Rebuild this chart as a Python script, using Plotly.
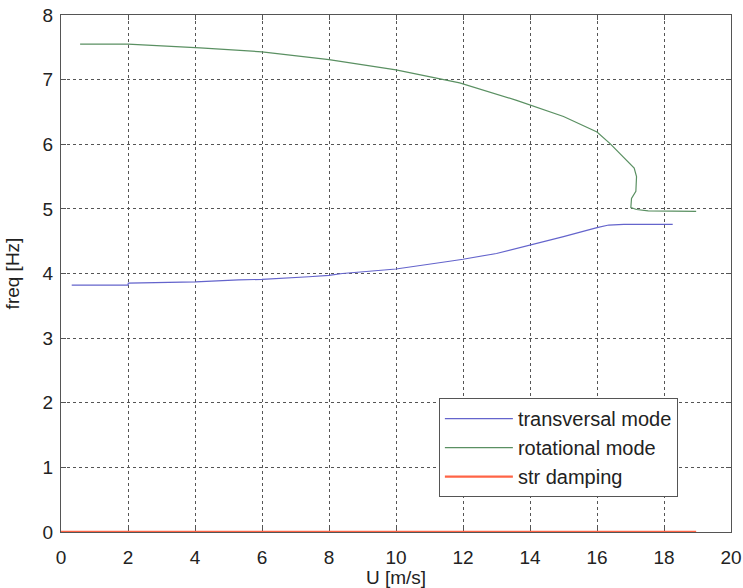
import plotly.graph_objects as go

# transversal mode
trans_x = [0.32, 2.0, 2.01, 4.0, 4.02, 5.3, 6.0, 7.4, 8.0, 8.4, 10.0, 11.6, 12.0, 13.0, 13.95, 15.0, 16.0, 16.35, 16.8, 18.26]
trans_y = [3.82, 3.82, 3.85, 3.86, 3.87, 3.90, 3.91, 3.95, 3.97, 4.00, 4.07, 4.19, 4.22, 4.31, 4.43, 4.57, 4.71, 4.75, 4.76, 4.76]

# rotational mode
rot_x = [0.57, 2.0, 4.15, 6.0, 8.0, 10.0, 11.9, 13.6, 15.0, 16.0, 16.39, 16.8, 17.11, 17.18, 17.16, 17.03, 17.01, 17.18, 17.53, 18.96]
rot_y = [7.55, 7.55, 7.49, 7.43, 7.31, 7.15, 6.95, 6.68, 6.43, 6.19, 6.01, 5.80, 5.63, 5.50, 5.27, 5.16, 5.02, 4.99, 4.97, 4.96]

# structural damping
damp_x = [0.0, 18.96]
damp_y = [0.0, 0.0]

x_ticks = [0, 2, 4, 6, 8, 10, 12, 14, 16, 18, 20]
y_ticks = [0, 1, 2, 3, 4, 5, 6, 7, 8]

FONT = "Liberation Sans, Arial, sans-serif"

fig = go.Figure()
fig.add_trace(go.Scatter(x=trans_x, y=trans_y, mode="lines", name="transversal mode",
                         line=dict(color="#6464cc", width=1.2)))
fig.add_trace(go.Scatter(x=rot_x, y=rot_y, mode="lines", name="rotational mode",
                         line=dict(color="#5a9062", width=1.2)))
fig.add_trace(go.Scatter(x=damp_x, y=damp_y, mode="lines", name="str damping",
                         line=dict(color="#ff6446", width=2.4), cliponaxis=False))

axis_common = dict(
    showline=True, mirror="ticks", linecolor="#555555", linewidth=1.2,
    ticks="inside", ticklen=5, tickcolor="#555555",
    showgrid=True, gridcolor="#555555", gridwidth=1, griddash="dot",
    zeroline=False, automargin=False, layer="below traces",
    ticklabeloverflow="allow",
    tickfont=dict(family=FONT, size=19, color="#222222"),
)

fig.update_xaxes(range=[0, 20], tickvals=x_ticks, ticklabelstandoff=8,
                 title=dict(text="U [m/s]", standoff=0,
                            font=dict(family=FONT, size=19, color="#222222")),
                 **axis_common)
fig.update_yaxes(range=[0, 8], tickvals=y_ticks, ticklabelstandoff=3,
                 title=dict(text="freq [Hz]", standoff=17,
                            font=dict(family=FONT, size=19, color="#222222")),
                 **axis_common)

fig.update_layout(
    width=743, height=588,
    margin=dict(l=61, r=12, t=15, b=56, autoexpand=False),
    plot_bgcolor="white", paper_bgcolor="white",
    legend=dict(x=0.564, y=0.259, xanchor="left", yanchor="top",
                bgcolor="white", bordercolor="#555555", borderwidth=1,
                itemwidth=68, tracegroupgap=0,
                font=dict(family=FONT, size=20, color="#222222")),
    showlegend=True,
)

fig.write_html("out.html",
               config={"displayModeBar": False},
               post_script="document.body.style.margin='0';document.body.style.overflow='hidden';")
